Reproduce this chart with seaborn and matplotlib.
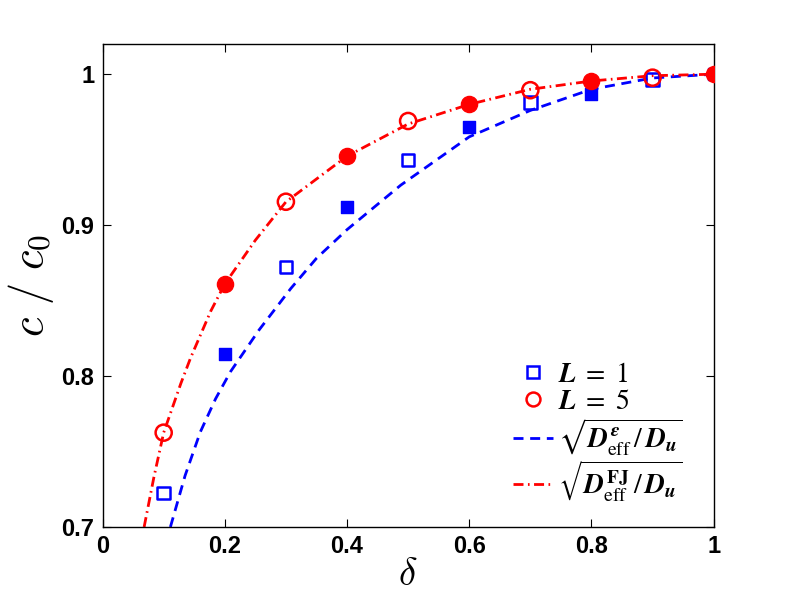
import numpy as np
import pandas as pd
import seaborn as sns
import matplotlib
matplotlib.use("Agg")
import matplotlib.pyplot as plt
from matplotlib.lines import Line2D

delta = [0.1, 0.2, 0.3, 0.4, 0.5, 0.6, 0.7, 0.8, 0.9, 1.0]
c_L1 = [0.7227, 0.8148, 0.8721, 0.9120, 0.9430, 0.9647, 0.9812, 0.9866, 0.9966, 1.0]
c_L5 = [0.7625, 0.8612, 0.9155, 0.9457, 0.9690, 0.9800, 0.9894, 0.9954, 0.9977, 1.0]
filled = [False, True, False, True, False, True, False, True, False, True]

# theory curves
eps_x = [0.111, 0.135, 0.160, 0.185, 0.2095, 0.256, 0.308, 0.350, 0.400, 0.488, 0.600, 0.700, 0.800, 0.900, 1.0]
eps_y = [0.700, 0.734, 0.763, 0.785, 0.803, 0.8305, 0.858, 0.878, 0.897, 0.9265, 0.9585, 0.976, 0.990, 0.9975, 1.0]
fj_x = [0.068, 0.084, 0.100, 0.128, 0.144, 0.177, 0.200, 0.250, 0.300, 0.400, 0.500, 0.600, 0.700, 0.800, 0.900, 1.0]
fj_y = [0.700, 0.733, 0.7625, 0.795, 0.812, 0.843, 0.861, 0.890, 0.9154, 0.9457, 0.967, 0.980, 0.990, 0.9955, 0.999, 1.0]

sns.set_style("ticks")
plt.rcParams["font.family"] = ["Liberation Sans", "DejaVu Sans"]
plt.rcParams["mathtext.fontset"] = "custom"
plt.rcParams["mathtext.rm"] = "STIXGeneral"
plt.rcParams["mathtext.it"] = "STIXGeneral:italic:bold"
plt.rcParams["mathtext.bf"] = "STIXGeneral:bold"
plt.rcParams["mathtext.fallback"] = "stix"
plt.rcParams["text.color"] = "black"
plt.rcParams["axes.labelcolor"] = "black"
plt.rcParams["xtick.color"] = "black"
plt.rcParams["ytick.color"] = "black"
plt.rcParams["axes.edgecolor"] = "black"

df = pd.DataFrame({"delta": delta * 2, "c": c_L1 + c_L5,
                   "L": ["1"] * len(delta) + ["5"] * len(delta),
                   "filled": filled * 2})

fig = plt.figure(figsize=(7.89, 5.94), dpi=100)
ax = fig.add_axes([0.13, 0.1128, 0.7745, 0.8131])

blue = "#0000ff"
red = "#ff0000"
lw = 2.0
dash = (0, (3.6, 2.4))
dashdot = (0, (3.6, 1.6, 0.6, 1.6))

sns.lineplot(x=eps_x, y=eps_y, ax=ax, color=blue, lw=lw, linestyle=dash, sort=False, zorder=2)
sns.lineplot(x=fj_x, y=fj_y, ax=ax, color=red, lw=lw, linestyle=dashdot, sort=False, zorder=2)

for L, col, mk, ms in [("1", blue, "s", 80), ("5", red, "o", 135)]:
    sub = df[df["L"] == L]
    op = sub[~sub["filled"]]
    fi = sub[sub["filled"]]
    sns.scatterplot(data=op, x="delta", y="c", ax=ax, marker=mk, s=ms,
                    facecolors="none", edgecolor=col, linewidth=1.8, zorder=3)
    sns.scatterplot(data=fi, x="delta", y="c", ax=ax, marker=mk, s=ms,
                    color=col, edgecolor=col, linewidth=1.0, zorder=3)

ax.set_xlim(0, 1)
ax.set_ylim(0.7, 1.02)
ax.set_xticks([0, 0.2, 0.4, 0.6, 0.8, 1.0])
ax.set_xticklabels(["0", "0.2", "0.4", "0.6", "0.8", "1"])
ax.set_yticks([0.7, 0.8, 0.9, 1.0])
ax.set_yticklabels(["0.7", "0.8", "0.9", "1"])
ax.tick_params(direction="in", length=6, width=0.8, top=True, right=True,
               labelsize=17, pad=6)
for lab in ax.get_xticklabels() + ax.get_yticklabels():
    lab.set_fontweight("bold")
for sp in ax.spines.values():
    sp.set_visible(True)
    sp.set_linewidth(1.0)

ax.set_xlabel(r"$\delta$", fontsize=28, math_fontfamily="cm", labelpad=-1)
ax.set_ylabel(r"$c\ /\ c_0$", fontsize=32, math_fontfamily="cm", labelpad=4)

handles = [
    Line2D([], [], marker="s", ls="none", color=blue, mfc="none", ms=8, mew=1.8),
    Line2D([], [], marker="o", ls="none", color=red, mfc="none", ms=10, mew=1.8),
    Line2D([], [], color=blue, lw=lw, ls=dash),
    Line2D([], [], color=red, lw=lw, ls=dashdot),
]
labels = [r"$L\;=\;1$", r"$L\;=\;5$",
          r"$\sqrt{D_{\mathrm{eff}}^{\epsilon}\,/\,D_u}$",
          r"$\sqrt{D_{\mathrm{eff}}^{\mathbf{FJ}}\,/\,D_u}$"]
leg = ax.legend(handles, labels, loc="upper right", bbox_to_anchor=(0.949, 0.342),
                frameon=False, fontsize=20, handlelength=1.44, handletextpad=0.18,
                labelspacing=0.05, borderpad=0, borderaxespad=0)

fig.savefig("out.png", dpi=100, facecolor="white")
